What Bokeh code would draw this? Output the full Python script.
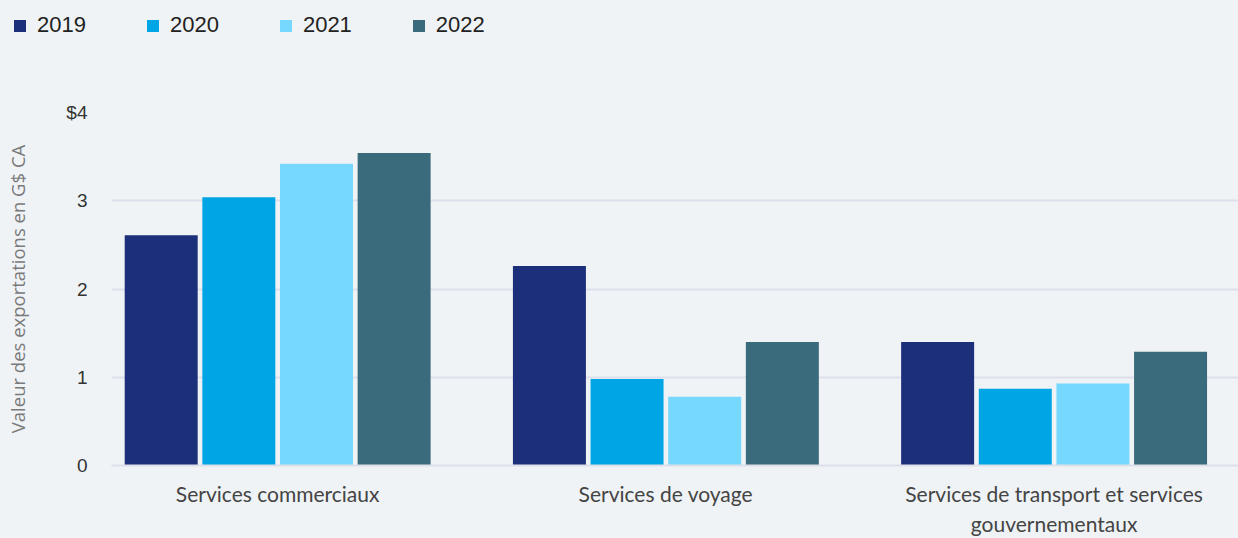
from bokeh.plotting import figure
from bokeh.layouts import column
from bokeh.models import ColumnDataSource, Range1d, FixedTicker, Legend, LegendItem
from bokeh.transform import dodge
from bokeh.embed import file_html
from bokeh.resources import INLINE

categories = ["Services commerciaux", "Services de voyage",
              "Services de transport et services\ngouvernementaux"]
years = ["2019", "2020", "2021", "2022"]
v2019 = [2.61, 2.26, 1.40]
v2020 = [3.04, 0.98, 0.87]
v2021 = [3.42, 0.78, 0.93]
v2022 = [3.54, 1.40, 1.29]
y_ticks = [0, 1, 2, 3, 4]
y_tick_labels = ["0", "1", "2", "3", "$4"]
y_title = "Valeur des exportations en G$ CA"

colors = ["#1b2f7a", "#00a5e5", "#76d8ff", "#396b7d"]
BG = "#eff3f5"
GRID = "#dde0ea"

src = ColumnDataSource(dict(x=list(range(len(categories))),
                            **{"y" + y: v for y, v in zip(years, [v2019, v2020, v2021, v2022])}))
offsets = [-0.3, -0.1, 0.1, 0.3]

# ---- legend strip (separate figure so it can sit at the very top-left) ----
lf = figure(width=1238, height=50, output_backend="svg", toolbar_location=None,
            x_range=Range1d(-0.5, 2.5), y_range=Range1d(100, 101),
            min_border=0, background_fill_color=BG, border_fill_color=BG,
            outline_line_color=None)
lf.frame_align = False
lf.axis.visible = False
lf.grid.visible = False
items = []
for yr, off, c in zip(years, offsets, colors):
    # same bars, kept out of this strip's view; only their legend swatch shows
    r = lf.vbar(x=dodge("x", off, range=lf.x_range), top="y" + yr, width=0.188,
                source=src, fill_color=c, line_color=None)
    items.append(LegendItem(label=yr, renderers=[r]))
legend = Legend(items=items, orientation="horizontal", location="top_left",
                margin=12, padding=0, spacing=59, glyph_width=15, glyph_height=15,
                label_standoff=10, label_text_font="Liberation Sans",
                label_text_font_size="22px", label_text_color="#222222",
                background_fill_alpha=0, border_line_alpha=0)
lf.add_layout(legend, "center")

# ---- main chart ----
p = figure(width=1238, height=488, output_backend="svg", toolbar_location=None,
           x_range=Range1d(-0.428, 2.475), y_range=Range1d(0, 4),
           min_border_left=111, min_border_right=0, min_border_top=62, min_border_bottom=73,
           background_fill_color=BG, border_fill_color=BG, outline_line_color=None)
p.frame_align = False

for yr, off, c in zip(years, offsets, colors):
    p.vbar(x=dodge("x", off, range=p.x_range), top="y" + yr, width=0.188,
           source=src, fill_color=c, line_color=None)

# grid
p.xgrid.grid_line_color = None
p.ygrid.grid_line_color = GRID
p.ygrid.grid_line_width = 2
p.yaxis.ticker = FixedTicker(ticks=y_ticks)
p.ygrid.ticker = FixedTicker(ticks=y_ticks)

# y axis
p.yaxis.major_label_overrides = {t: l for t, l in zip(y_ticks, y_tick_labels)}
p.yaxis.axis_line_color = None
p.yaxis.major_tick_line_color = None
p.yaxis.minor_tick_line_color = None
p.yaxis.major_tick_out = 0
p.yaxis.major_tick_in = 0
p.yaxis.major_label_standoff = 24
p.yaxis.major_label_text_font = "Liberation Sans"
p.yaxis.major_label_text_font_size = "19px"
p.yaxis.major_label_text_color = "#333333"
p.yaxis.axis_label = y_title
p.yaxis.axis_label_text_font = "Open Sans"
p.yaxis.axis_label_text_font_style = "normal"
p.yaxis.axis_label_text_font_size = "18.5px"
p.yaxis.axis_label_text_color = "#7a7a7a"
p.yaxis.axis_label_standoff = 33

# x axis
p.xaxis.ticker = FixedTicker(ticks=list(range(len(categories))))
p.xaxis.major_label_overrides = {i: c for i, c in enumerate(categories)}
p.xaxis.axis_line_color = GRID
p.xaxis.axis_line_width = 2
p.xaxis.major_tick_line_color = None
p.xaxis.minor_tick_line_color = None
p.xaxis.major_tick_out = 0
p.xaxis.major_tick_in = 0
p.xaxis.major_label_standoff = 15
p.xaxis.major_label_text_font = "Lato"
p.xaxis.major_label_text_font_size = "21px"
p.xaxis.major_label_text_color = "#444444"

layout = column(lf, p, spacing=0, styles={"background-color": BG})
open("out.html", "w").write(file_html(layout, INLINE))
